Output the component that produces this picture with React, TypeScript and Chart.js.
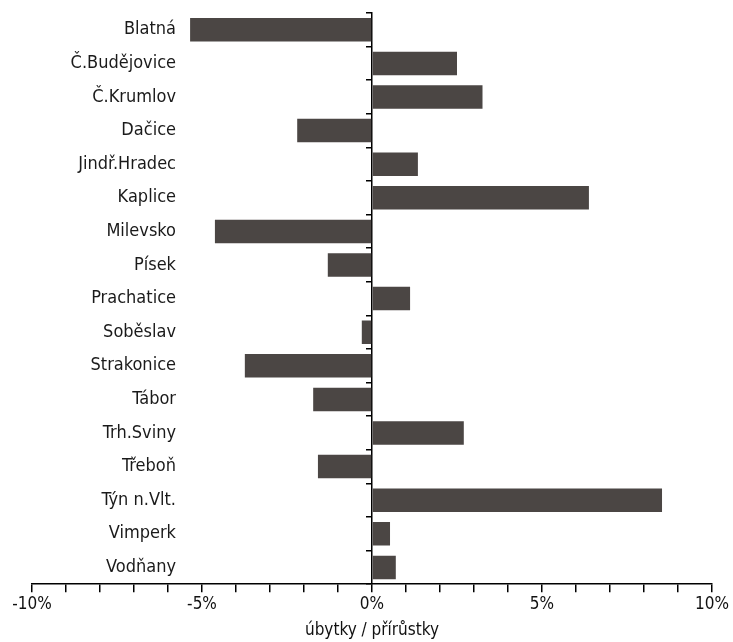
import React, { useEffect, useRef } from 'react';
import { Chart, registerables } from 'chart.js';

Chart.register(...registerables);

const categories = [
  'Blatná', 'Č.Budějovice', 'Č.Krumlov', 'Dačice', 'Jindř.Hradec', 'Kaplice',
  'Milevsko', 'Písek', 'Prachatice', 'Soběslav', 'Strakonice', 'Tábor',
  'Trh.Sviny', 'Třeboň', 'Týn n.Vlt.', 'Vimperk', 'Vodňany',
];
const changes = [
  -5.35, 2.5, 3.25, -2.2, 1.35, 6.38,
  -4.62, -1.3, 1.12, -0.3, -3.74, -1.73,
  2.7, -1.59, 8.53, 0.53, 0.7,
];
const xTickValues = [-10, -5, 0, 5, 10];
const xTickLabels = ['-10%', '-5%', '0%', '5%', '10%'];
const xTitle = 'úbytky / přírůstky';

const FONT = '"DejaVu Sans Condensed", "DejaVu Sans", sans-serif';
const LABEL_SIZE = 18;

export default function App() {
  const ref = useRef<HTMLCanvasElement | null>(null);

  useEffect(() => {
    if (!ref.current) return;
    Chart.defaults.font.family = FONT;
    // measure widest category label so that labels right-align at x≈176
    const mctx = document.createElement('canvas').getContext('2d')!;
    mctx.font = `${LABEL_SIZE}px ${FONT}`;
    let widest = 0;
    for (const c of categories) widest = Math.max(widest, mctx.measureText(c).width);
    const labelPad = 144 - widest;

    const chart = new Chart(ref.current, {
      type: 'bar',
      data: {
        labels: categories,
        datasets: [
          {
            data: changes,
            backgroundColor: '#4b4644',
            borderWidth: 0,
            barPercentage: 0.7,
            categoryPercentage: 1,
            yAxisID: 'y',
            xAxisID: 'x',
          },
        ],
      },
      options: {
        indexAxis: 'y',
        animation: false,
        responsive: true,
        maintainAspectRatio: false,
        layout: { padding: { top: 13, right: 21, bottom: 1, left: 0 } },
        plugins: { legend: { display: false }, tooltip: { enabled: false } },
        scales: {
          x: {
            type: 'linear',
            position: 'bottom',
            min: -10,
            max: 10,
            ticks: {
              stepSize: 1,
              autoSkip: false,
              maxRotation: 0,
              padding: 2,
              color: '#111',
              font: { size: 17 },
              callback: (v: any) => {
                const i = xTickValues.indexOf(Number(v));
                return i >= 0 ? xTickLabels[i] : '';
              },
            },
            grid: {
              display: true,
              drawOnChartArea: false,
              drawTicks: true,
              tickLength: 8,
              color: '#000',
              lineWidth: 1.5,
            },
            border: { display: true, color: '#000', width: 1.5 },
            title: {
              display: true,
              text: xTitle,
              color: '#111',
              font: { size: 17 },
              padding: { top: 4, bottom: 0 },
            },
          },
          y: {
            type: 'category',
            position: 'left',
            offset: true,
            grid: { display: false, drawTicks: false },
            border: { display: false },
            ticks: {
              mirror: true,
              crossAlign: 'far',
              padding: labelPad,
              autoSkip: false,
              color: '#1a1a1a',
              font: { size: LABEL_SIZE },
            },
            afterFit: (s: any) => {
              s.width = 32;
              s.paddingTop = 0;
              s.paddingBottom = 0;
            },
          },
          y2: {
            type: 'category',
            position: { x: 0 },
            offset: true,
            grid: {
              display: true,
              offset: true,
              drawOnChartArea: false,
              drawTicks: true,
              tickLength: 5,
              color: '#000',
              lineWidth: 1.5,
            },
            border: { display: true, color: '#000', width: 1.5 },
            ticks: { display: false },
          },
        },
      },
    } as any);
    return () => chart.destroy();
  }, []);

  return (
    <div style={{ position: 'absolute', left: 0, top: 0, width: 733, height: 642, background: '#fff' }}>
      <canvas ref={ref} />
    </div>
  );
}
